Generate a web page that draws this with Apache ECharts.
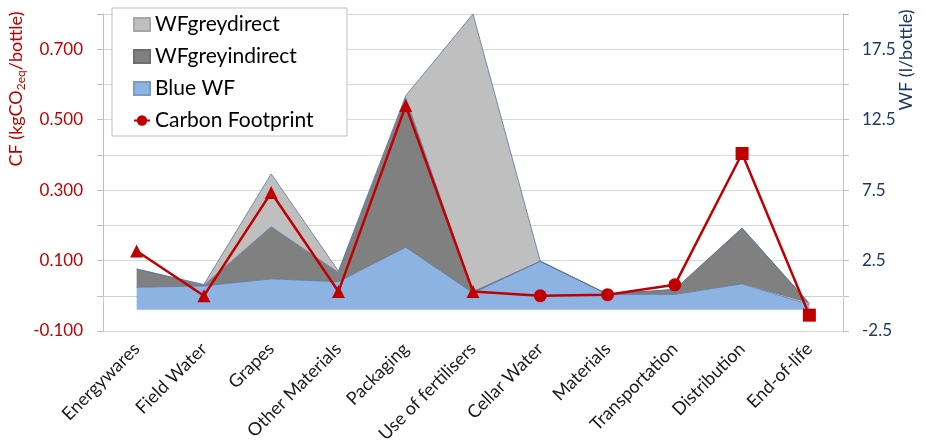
<!DOCTYPE html>
<html>
<head>
<meta charset="utf-8">
<script src="https://cdn.jsdelivr.net/npm/echarts@6/dist/echarts.min.js"></script>
<style>
  html, body { margin: 0; padding: 0; background: #fff; }
  #chart { width: 925px; height: 448px; }
</style>
</head>
<body>
<div id="chart"></div>
<script>
// Life-cycle stages of a wine bottle
const stages = ['Energywares', 'Field Water', 'Grapes', 'Other Materials', 'Packaging',
  'Use of fertilisers', 'Cellar Water', 'Materials', 'Transportation', 'Distribution', 'End-of-life'];

// Water footprint components (l/bottle), stacked on the WF baseline
const wfBase = -1.0;
const blueWF = [1.6, 1.7, 2.2, 2.0, 4.45, 1.2, 3.45, 1.1, 1.1, 1.85, 0.38];
const wfGreyIndirect = [1.3, 0.05, 3.7, 0.65, 10.6, 0.1, 0, 0.02, 0.35, 3.95, 0.07];
const wfGreyDirect = [0, 0.05, 3.75, 0.1, 0.15, 19.7, 0, 0, 0, 0, 0];

// Carbon footprint (kgCO2eq/bottle) and the marker used for each stage
const carbonFootprint = [0.127, 0.0, 0.293, 0.012, 0.54, 0.012, 0.0, 0.003, 0.031, 0.404, -0.055];
const cfMarkers = ['triangle', 'triangle', 'triangle', 'triangle', 'triangle', 'triangle',
  'circle', 'circle', 'circle', 'rect', 'rect'];

// Axis tick labels that are printed
const cfTickLabels = ['-0.100', '0.100', '0.300', '0.500', '0.700'];
const wfTickLabels = ['-2.5', '2.5', '7.5', '12.5', '17.5'];

const RED = '#c00000';
const NAVY = '#1f3864';
const FONT = 'Lato';

const chart = echarts.init(document.getElementById('chart'), null, { renderer: 'canvas' });

const areaLine = { color: '#5d7399', width: 0.8 };

const option = {
  animation: false,
  textStyle: { fontFamily: FONT },
  grid: { left: 103, right: 82, top: 14, bottom: 117, containLabel: false },
  xAxis: {
    type: 'category',
    data: stages,
    boundaryGap: true,
    axisLine: { show: true, lineStyle: { color: '#d0d0d0', width: 1 } },
    axisTick: { show: true, length: 6, lineStyle: { color: '#d0d0d0' } },
    axisLabel: { rotate: 45, fontSize: 18, color: '#1a1a1a', margin: 15, interval: 0, fontFamily: FONT }
  },
  yAxis: [
    {
      type: 'value', min: -0.1, max: 0.8, interval: 0.1,
      axisLine: { show: true, lineStyle: { color: '#bfbfbf' } },
      axisTick: { show: true, length: 6, lineStyle: { color: '#bfbfbf' } },
      splitLine: { show: true, lineStyle: { color: '#d9d9d9', width: 1 } },
      axisLabel: {
        color: RED, fontSize: 17, margin: 20, fontFamily: FONT,
        formatter: v => { const s = v.toFixed(3); return cfTickLabels.includes(s) ? s : ''; }
      }
    },
    {
      type: 'value', min: -2.5, max: 20, interval: 2.5,
      axisLine: { show: true, lineStyle: { color: '#bfbfbf' } },
      axisTick: { show: true, length: 6, lineStyle: { color: '#bfbfbf' } },
      splitLine: { show: false },
      axisLabel: {
        color: NAVY, fontSize: 17, margin: 19, fontFamily: FONT,
        formatter: v => { const s = v.toFixed(1); return wfTickLabels.includes(s) ? s : ''; }
      }
    }
  ],
  legend: {
    orient: 'vertical',
    left: 128, top: 9,
    z: 30,
    itemWidth: 16, itemHeight: 13, itemGap: 11,
    textStyle: { fontSize: 21, color: '#000', fontFamily: FONT },
    data: [
      { name: 'WFgreydirect', icon: 'rect' },
      { name: 'WFgreyindirect', icon: 'rect' },
      { name: 'Blue WF', icon: 'rect' },
      { name: 'Carbon Footprint' }
    ]
  },
  graphic: [
    {
      type: 'rect', z: 25,
      shape: { x: 112, y: 8, width: 235, height: 128 },
      style: { fill: '#fff', stroke: '#bfbfbf', lineWidth: 1 }
    },
    {
      type: 'text', x: 16, y: 89, rotation: Math.PI / 2,
      style: {
        text: '{a|CF (kgCO}{s|2eq}{a|/bottle)}',
        align: 'center', verticalAlign: 'middle',
        rich: {
          a: { fontSize: 18, fill: RED, fontFamily: FONT, lineHeight: 22 },
          s: { fontSize: 12, fill: RED, fontFamily: FONT, lineHeight: 22, verticalAlign: 'bottom', padding: [8, 0, 0, 0] }
        }
      }
    },
    {
      type: 'text', x: 906, y: 60, rotation: Math.PI / 2,
      style: {
        text: 'WF (l/bottle)', align: 'center', verticalAlign: 'middle',
        fontSize: 18, fill: NAVY, fontFamily: FONT
      }
    }
  ],
  series: [
    {
      name: 'Blue WF', type: 'line', yAxisIndex: 1, stack: 'wf', stackStrategy: 'all',
      data: blueWF.map(v => v + wfBase),
      symbol: 'none', lineStyle: areaLine, z: 2,
      itemStyle: { color: '#8db3e2', borderColor: '#7a9cc8', borderWidth: 1 },
      areaStyle: { color: '#8db3e2', opacity: 1, origin: wfBase }
    },
    {
      name: 'WFgreyindirect', type: 'line', yAxisIndex: 1, stack: 'wf', stackStrategy: 'all',
      data: wfGreyIndirect,
      symbol: 'none', lineStyle: areaLine, z: 2,
      itemStyle: { color: '#808080', borderColor: '#6e6e6e', borderWidth: 1 },
      areaStyle: { color: '#808080', opacity: 1 }
    },
    {
      name: 'WFgreydirect', type: 'line', yAxisIndex: 1, stack: 'wf', stackStrategy: 'all',
      data: wfGreyDirect,
      symbol: 'none', lineStyle: areaLine, z: 2,
      itemStyle: { color: '#bfbfbf', borderColor: '#a6a6a6', borderWidth: 1 },
      areaStyle: { color: '#bfbfbf', opacity: 1 }
    },
    {
      name: 'Carbon Footprint', type: 'line', yAxisIndex: 0,
      data: carbonFootprint.map((v, i) => ({ value: v, symbol: cfMarkers[i] })),
      symbol: 'circle', symbolSize: 13,
      lineStyle: { color: RED, width: 2.5 },
      itemStyle: { color: RED },
      z: 5
    }
  ]
};

chart.setOption(option);
</script>
</body>
</html>
